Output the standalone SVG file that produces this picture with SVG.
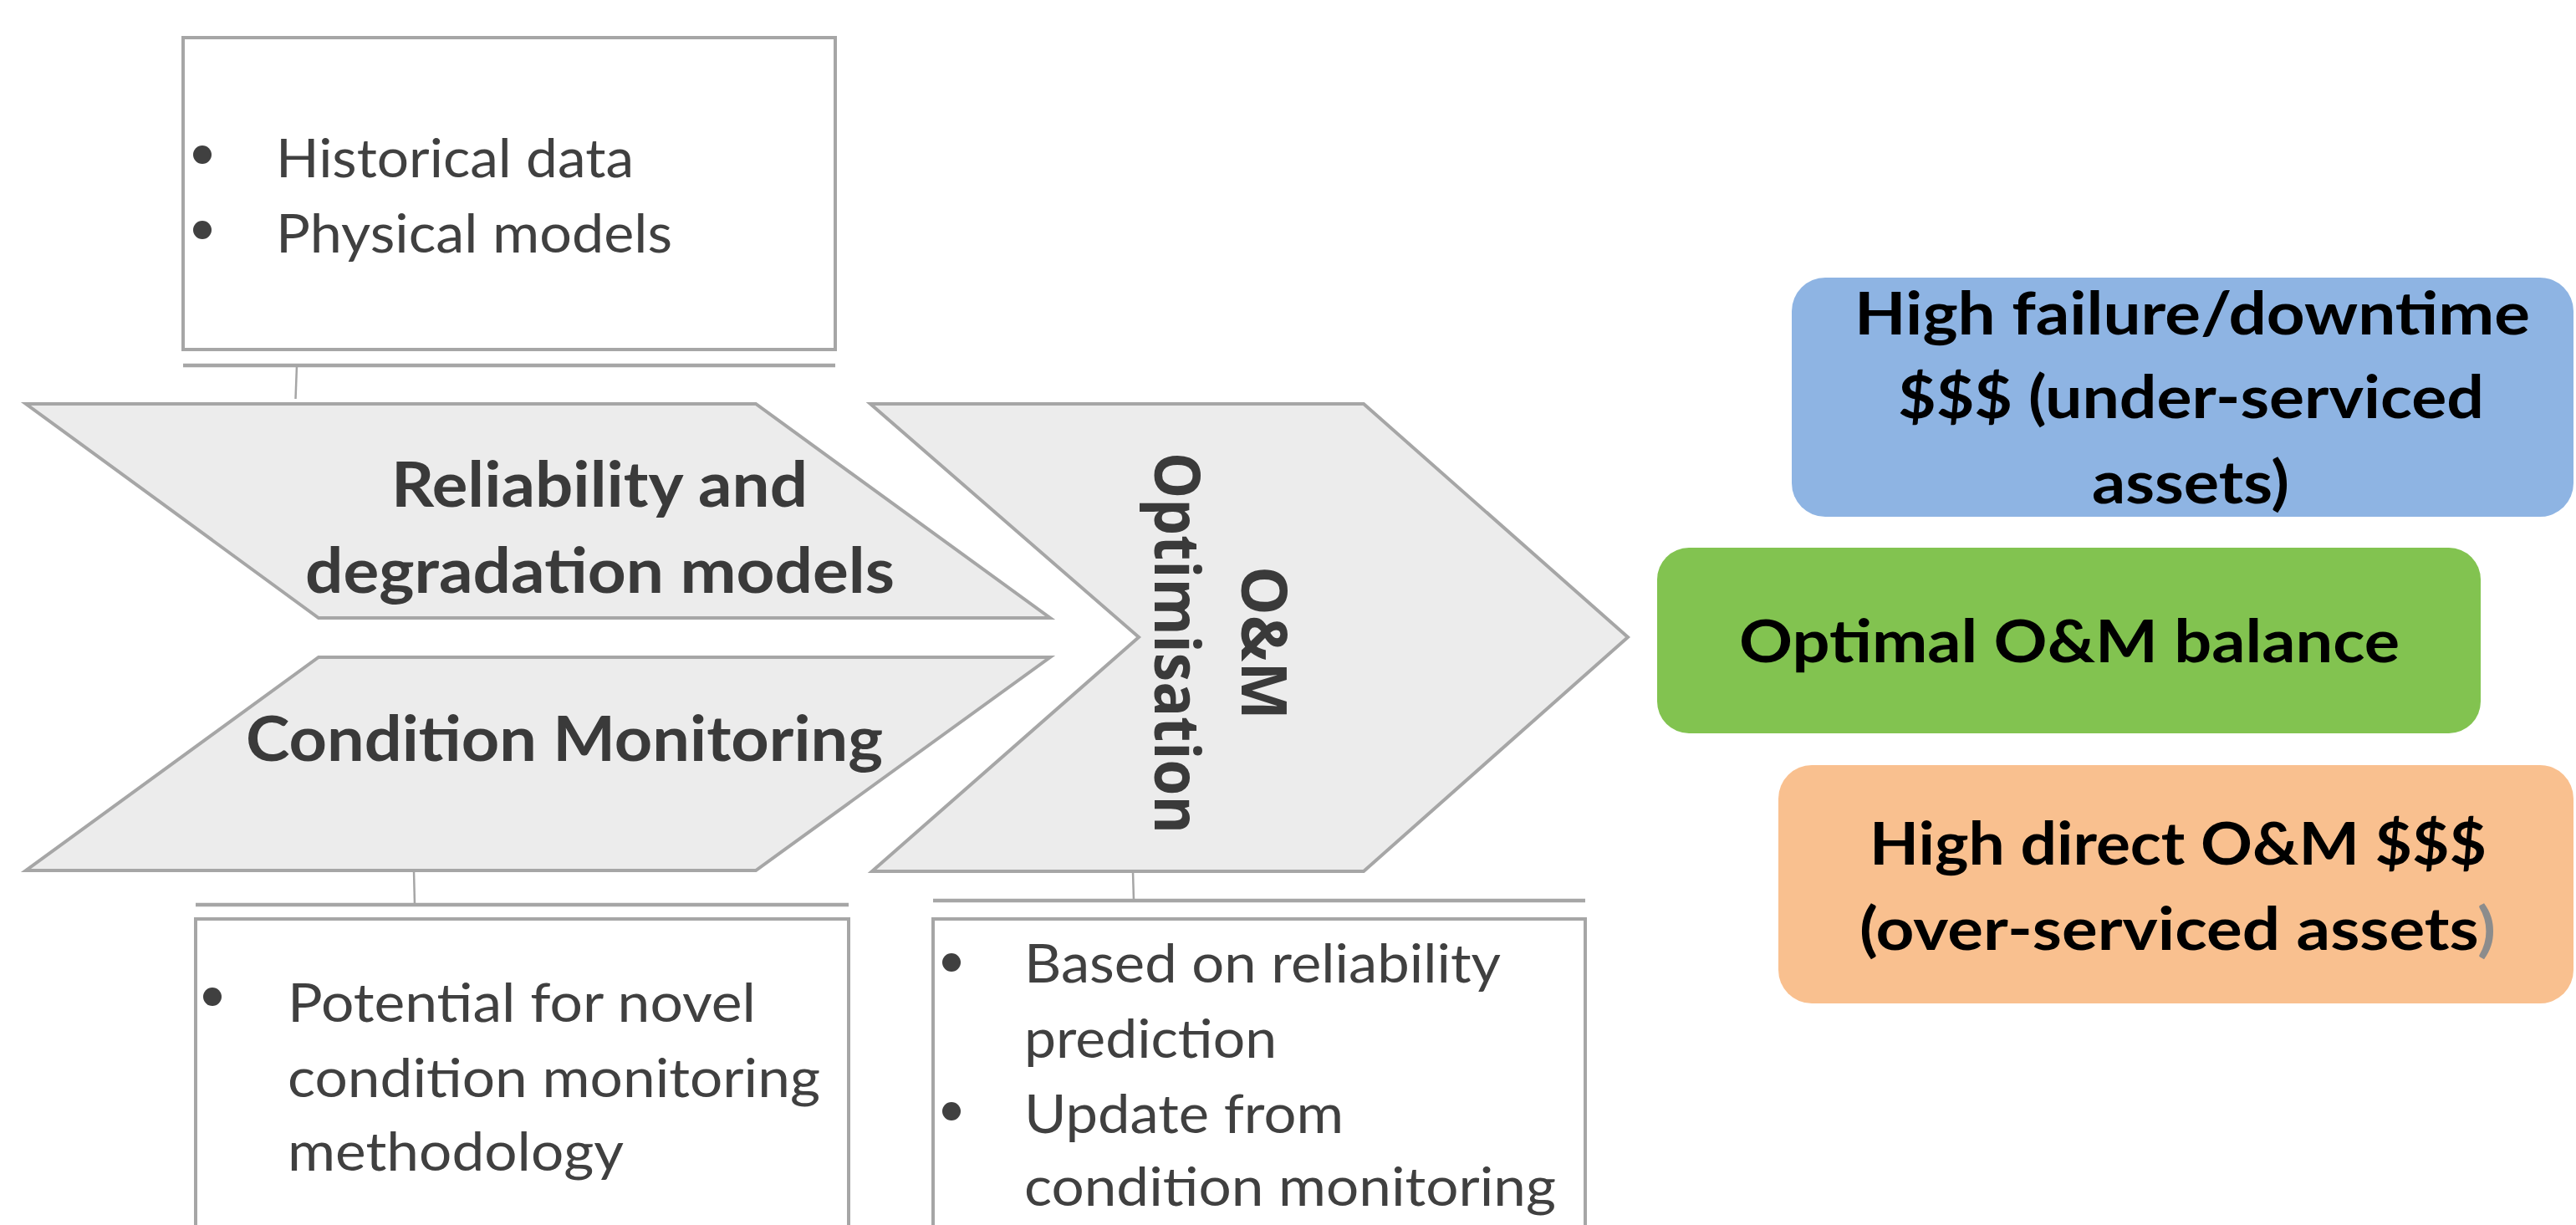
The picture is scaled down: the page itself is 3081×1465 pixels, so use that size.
<svg xmlns="http://www.w3.org/2000/svg" width="3081" height="1465" viewBox="0 0 3081 1465">
  <style>
    .note { fill: #ffffff; stroke: #a6a6a6; stroke-width: 4; }
    .rule { stroke: #a6a6a6; stroke-width: 4.5; fill: none; }
    .tick { stroke: #a6a6a6; stroke-width: 2.5; fill: none; }
    .shape { fill: #ececec; stroke: #a6a6a6; stroke-width: 4; stroke-linejoin: miter; }
    .bul { fill: #404040; }
    .body { font-family: Lato, "Open Sans", "Liberation Sans", sans-serif; font-size: 64px; fill: #404040; }
    .label { font-family: Lato, "Open Sans", "Liberation Sans", sans-serif; font-size: 74px; font-weight: 700; fill: #3a3a3a; }
    .vert { font-family: "Open Sans", "DejaVu Sans", sans-serif; font-size: 75px; font-weight: 700; fill: #3a3a3a; text-anchor: middle; }
    .out { font-family: Lato, "Open Sans", "Liberation Sans", sans-serif; font-size: 70px; font-weight: 700; fill: #000000; }
  </style>

  <!-- background -->
  <rect x="0" y="0" width="3081" height="1465" fill="#ffffff"/>

  <!-- input note: data sources -->
  <g id="note-inputs">
    <rect class="note" x="219" y="45" width="780" height="373"/>
    <line class="rule" x1="219" y1="437" x2="999" y2="437"/>
    <circle class="bul" cx="242" cy="185" r="11"/>
    <circle class="bul" cx="242" cy="275" r="11"/>
    <text class="body" x="330" y="212" textLength="428" lengthAdjust="spacingAndGlyphs">Historical data</text>
    <text class="body" x="330" y="302" textLength="474" lengthAdjust="spacingAndGlyphs">Physical models</text>
  </g>

  <!-- reliability and degradation models -->
  <g id="node-reliability">
    <polygon class="shape" points="31,483 904,483 1256,739 381,739"/>
    <text class="label" x="468" y="606" textLength="498" lengthAdjust="spacingAndGlyphs">Reliability and</text>
    <text class="label" x="365" y="709" textLength="705" lengthAdjust="spacingAndGlyphs">degradation models</text>
  </g>

  <!-- condition monitoring -->
  <g id="node-condition">
    <polygon class="shape" points="381,786 1256,786 904,1041 31,1041"/>
    <text class="label" x="294" y="910" textLength="762" lengthAdjust="spacingAndGlyphs">Condition Monitoring</text>
  </g>

  <!-- O&M optimisation chevron -->
  <g id="node-optimisation">
    <polygon class="shape" points="1041,483 1631,483 1947,762 1631,1042 1043,1042 1362,762"/>
    <g transform="translate(1453,769) rotate(90)">
      <text class="vert" x="0" y="-32" textLength="184" lengthAdjust="spacingAndGlyphs">O&amp;M</text>
      <text class="vert" x="0" y="72" textLength="456" lengthAdjust="spacingAndGlyphs">Optimisation</text>
    </g>
  </g>

  <!-- note under condition monitoring -->
  <g id="note-condition">
    <line class="rule" x1="234" y1="1082" x2="1015" y2="1082"/>
    <path class="note" d="M234,1480 L234,1099 L1015,1099 L1015,1480"/>
    <circle class="bul" cx="254" cy="1192" r="11"/>
    <text class="body" x="344" y="1222" textLength="560" lengthAdjust="spacingAndGlyphs">Potential for novel</text>
    <text class="body" x="344" y="1312" textLength="637" lengthAdjust="spacingAndGlyphs">condition monitoring</text>
    <text class="body" x="344" y="1400" textLength="402" lengthAdjust="spacingAndGlyphs">methodology</text>
  </g>

  <!-- note under optimisation -->
  <g id="note-optimisation">
    <line class="rule" x1="1116" y1="1077" x2="1896" y2="1077"/>
    <path class="note" d="M1116,1480 L1116,1099 L1896,1099 L1896,1480"/>
    <circle class="bul" cx="1138" cy="1151" r="11"/>
    <circle class="bul" cx="1138" cy="1329" r="11"/>
    <text class="body" x="1225" y="1175" textLength="570" lengthAdjust="spacingAndGlyphs">Based on reliability</text>
    <text class="body" x="1225" y="1265" textLength="302" lengthAdjust="spacingAndGlyphs">prediction</text>
    <text class="body" x="1225" y="1355" textLength="382" lengthAdjust="spacingAndGlyphs">Update from</text>
    <text class="body" x="1225" y="1442" textLength="636" lengthAdjust="spacingAndGlyphs">condition monitoring</text>
  </g>

  <!-- outcome boxes -->
  <g id="outcome-under">
    <rect x="2143" y="332" width="935" height="286" rx="40" fill="#8eb4e3"/>
    <text class="out" x="2218" y="400" textLength="808" lengthAdjust="spacingAndGlyphs">High failure/downtime</text>
    <text class="out" x="2270" y="500" textLength="701" lengthAdjust="spacingAndGlyphs">$$$ (under-serviced</text>
    <text class="out" x="2502" y="602" textLength="236" lengthAdjust="spacingAndGlyphs">assets)</text>
  </g>

  <g id="outcome-optimal">
    <rect x="1982" y="655" width="985" height="222" rx="38" fill="#82c350"/>
    <text class="out" x="2080" y="792" textLength="790" lengthAdjust="spacingAndGlyphs">Optimal O&amp;M balance</text>
  </g>

  <g id="outcome-over">
    <rect x="2127" y="915" width="951" height="285" rx="40" fill="#f9c08f"/>
    <text class="out" x="2236" y="1034" textLength="738" lengthAdjust="spacingAndGlyphs">High direct O&amp;M $$$</text>
    <text class="out" x="2224" y="1136" textLength="761" lengthAdjust="spacingAndGlyphs">(over-serviced assets<tspan fill="#8c8c8c">)</tspan></text>
  </g>

  <!-- connector ticks between shapes and notes -->
  <g id="connectors">
    <line class="tick" x1="355" y1="437" x2="353.5" y2="477"/>
    <line class="tick" x1="495" y1="1041" x2="496" y2="1082"/>
    <line class="tick" x1="1355" y1="1042" x2="1356" y2="1077"/>
  </g>
</svg>
